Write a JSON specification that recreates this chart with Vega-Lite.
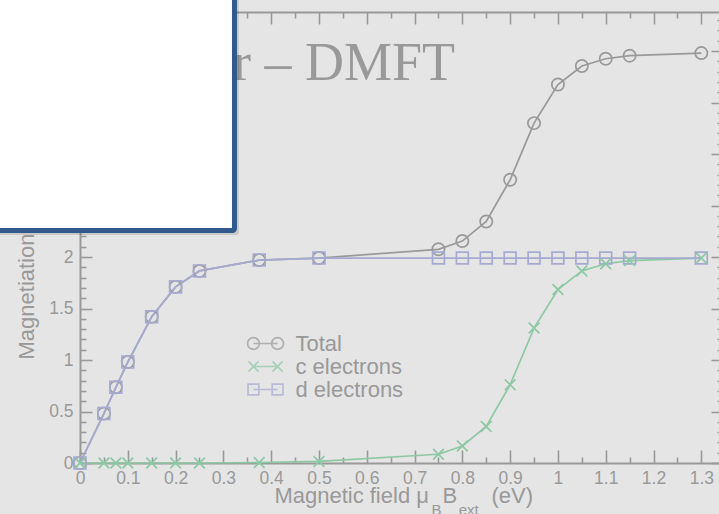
{
  "$schema": "https://vega.github.io/schema/vega-lite/v6.json",
  "width": 639,
  "height": 451,
  "autosize": {"type": "none"},
  "padding": {"left": 80, "top": 12, "right": 0, "bottom": 51},
  "background": "#e5e5e5",
  "config": {
    "view": {"stroke": null},
    "font": "Liberation Sans",
    "axis": {
      "grid": false,
      "domainColor": "#999999",
      "domainWidth": 2,
      "tickColor": "#999999",
      "tickWidth": 1.6,
      "labelColor": "#999999",
      "labelFont": "Liberation Sans",
      "labelFontSize": 17.5,
      "titleColor": "#999999",
      "titleFont": "Liberation Sans",
      "titleFontWeight": "normal"
    }
  },
  "data": {
    "values": [
      {"B": 0, "series": "Total", "M": 0},
      {"B": 0.05, "series": "Total", "M": 0.48},
      {"B": 0.075, "series": "Total", "M": 0.735},
      {"B": 0.1, "series": "Total", "M": 0.98},
      {"B": 0.15, "series": "Total", "M": 1.42},
      {"B": 0.2, "series": "Total", "M": 1.71},
      {"B": 0.25, "series": "Total", "M": 1.865},
      {"B": 0.375, "series": "Total", "M": 1.97},
      {"B": 0.5, "series": "Total", "M": 1.99},
      {"B": 0.75, "series": "Total", "M": 2.075},
      {"B": 0.8, "series": "Total", "M": 2.155},
      {"B": 0.85, "series": "Total", "M": 2.345},
      {"B": 0.9, "series": "Total", "M": 2.75},
      {"B": 0.95, "series": "Total", "M": 3.3},
      {"B": 1.0, "series": "Total", "M": 3.675},
      {"B": 1.05, "series": "Total", "M": 3.855},
      {"B": 1.1, "series": "Total", "M": 3.925},
      {"B": 1.15, "series": "Total", "M": 3.955},
      {"B": 1.3, "series": "Total", "M": 3.98},
      {"B": 0, "series": "d electrons", "M": 0},
      {"B": 0.05, "series": "d electrons", "M": 0.48},
      {"B": 0.075, "series": "d electrons", "M": 0.735},
      {"B": 0.1, "series": "d electrons", "M": 0.98},
      {"B": 0.15, "series": "d electrons", "M": 1.42},
      {"B": 0.2, "series": "d electrons", "M": 1.71},
      {"B": 0.25, "series": "d electrons", "M": 1.865},
      {"B": 0.375, "series": "d electrons", "M": 1.97},
      {"B": 0.5, "series": "d electrons", "M": 1.99},
      {"B": 0.75, "series": "d electrons", "M": 1.99},
      {"B": 0.8, "series": "d electrons", "M": 1.99},
      {"B": 0.85, "series": "d electrons", "M": 1.99},
      {"B": 0.9, "series": "d electrons", "M": 1.99},
      {"B": 0.95, "series": "d electrons", "M": 1.99},
      {"B": 1.0, "series": "d electrons", "M": 1.99},
      {"B": 1.05, "series": "d electrons", "M": 1.99},
      {"B": 1.1, "series": "d electrons", "M": 1.99},
      {"B": 1.15, "series": "d electrons", "M": 1.99},
      {"B": 1.3, "series": "d electrons", "M": 1.99},
      {"B": 0, "series": "c electrons", "M": 0},
      {"B": 0.05, "series": "c electrons", "M": 0},
      {"B": 0.075, "series": "c electrons", "M": 0},
      {"B": 0.1, "series": "c electrons", "M": 0},
      {"B": 0.15, "series": "c electrons", "M": 0},
      {"B": 0.2, "series": "c electrons", "M": 0},
      {"B": 0.25, "series": "c electrons", "M": 0},
      {"B": 0.375, "series": "c electrons", "M": 0.005},
      {"B": 0.5, "series": "c electrons", "M": 0.015},
      {"B": 0.75, "series": "c electrons", "M": 0.085},
      {"B": 0.8, "series": "c electrons", "M": 0.165},
      {"B": 0.85, "series": "c electrons", "M": 0.355},
      {"B": 0.9, "series": "c electrons", "M": 0.76},
      {"B": 0.95, "series": "c electrons", "M": 1.31},
      {"B": 1.0, "series": "c electrons", "M": 1.685},
      {"B": 1.05, "series": "c electrons", "M": 1.865},
      {"B": 1.1, "series": "c electrons", "M": 1.935},
      {"B": 1.15, "series": "c electrons", "M": 1.965},
      {"B": 1.3, "series": "c electrons", "M": 1.99}
    ]
  },
  "resolve": {"axis": {"x": "independent", "y": "independent"}},
  "layer": [
    {
      "transform": [{"filter": "datum.series === 'Total'"}],
      "mark": {"type": "line", "strokeWidth": 1.7, "color": "#999999"},
      "encoding": {
        "x": {
          "field": "B", "type": "quantitative",
          "scale": {"domain": [0, 1.337], "nice": false, "zero": false},
          "axis": {
            "orient": "bottom",
            "values": [0, 0.1, 0.2, 0.3, 0.4, 0.5, 0.6, 0.7, 0.8, 0.9, 1, 1.1, 1.2, 1.3],
            "format": "~g", "ticks": false, "labelPadding": 6.5,
            "labelFlush": false, "labelOverlap": false, "title": null
          }
        },
        "y": {
          "field": "M", "type": "quantitative",
          "scale": {"domain": [0, 4.379], "nice": false, "zero": false},
          "axis": {
            "orient": "left",
            "values": [0, 0.5, 1, 1.5, 2, 2.5, 3, 3.5, 4],
            "format": "~g", "ticks": false, "labelPadding": 7,
            "labelFlush": false, "labelOverlap": false,
            "title": "Magnetiation", "titleFontSize": 22, "titleAngle": 270,
            "titleAlign": "left", "titleBaseline": "alphabetic",
            "titleX": -47, "titleY": 347
          }
        }
      }
    },
    {
      "transform": [{"filter": "datum.series === 'c electrons'"}],
      "mark": {"type": "line", "strokeWidth": 1.7, "color": "#8dc8a5"},
      "encoding": {
        "x": {"field": "B", "type": "quantitative", "axis": null},
        "y": {"field": "M", "type": "quantitative", "axis": null}
      }
    },
    {
      "transform": [{"filter": "datum.series === 'd electrons'"}],
      "mark": {"type": "line", "strokeWidth": 1.7, "color": "#a6aad0"},
      "encoding": {
        "x": {"field": "B", "type": "quantitative", "axis": null},
        "y": {"field": "M", "type": "quantitative", "axis": null}
      }
    },
    {
      "transform": [{"filter": "datum.series === 'Total'"}],
      "mark": {"type": "point", "shape": "circle", "size": 150, "strokeWidth": 1.7, "filled": false, "opacity": 1, "color": "#999999"},
      "encoding": {
        "x": {"field": "B", "type": "quantitative", "axis": null},
        "y": {"field": "M", "type": "quantitative", "axis": null}
      }
    },
    {
      "transform": [{"filter": "datum.series === 'd electrons'"}],
      "mark": {"type": "point", "shape": "square", "size": 140, "strokeWidth": 1.7, "filled": false, "opacity": 1, "color": "#a6aad0"},
      "encoding": {
        "x": {"field": "B", "type": "quantitative", "axis": null},
        "y": {"field": "M", "type": "quantitative", "axis": null}
      }
    },
    {
      "transform": [{"filter": "datum.series === 'c electrons'"}],
      "mark": {"type": "point", "shape": "M-1,-1L1,1M1,-1L-1,1", "size": 115, "strokeWidth": 1.7, "filled": false, "opacity": 1, "color": "#8dc8a5"},
      "encoding": {
        "x": {"field": "B", "type": "quantitative", "axis": null},
        "y": {"field": "M", "type": "quantitative", "axis": null}
      }
    },
    {
      "transform": [{"filter": "false"}],
      "mark": {"type": "point", "filled": false, "strokeWidth": 1.7},
      "encoding": {
        "x": {"field": "B", "type": "quantitative", "axis": null},
        "y": {"field": "M", "type": "quantitative", "axis": null},
        "color": {
          "field": "series", "type": "nominal",
          "scale": {
            "domain": ["Total", "c electrons", "d electrons"],
            "range": ["#999999", "#8dc8a5", "#a6aad0"]
          },
          "legend": {
            "title": null, "orient": "none", "legendX": 166.5, "legendY": 320,
            "padding": 0, "symbolSize": 1296, "clipHeight": 23, "rowPadding": 0,
            "labelOffset": 11, "labelFont": "Liberation Sans", "labelFontSize": 22,
            "labelColor": "#999999", "symbolStrokeWidth": 1.7, "symbolFillColor": "transparent"
          }
        },
        "shape": {
          "field": "series", "type": "nominal",
          "scale": {
            "domain": ["Total", "c electrons", "d electrons"],
            "range": [
              "M-1,0A0.33,0.33,0,1,1,-0.34,0A0.33,0.33,0,1,1,-1,0ZM0.34,0A0.33,0.33,0,1,1,1,0A0.33,0.33,0,1,1,0.34,0ZM-0.67,0L0.67,0",
              "M-0.95,-0.28L-0.39,0.28M-0.95,0.28L-0.39,-0.28M0.39,-0.28L0.95,0.28M0.39,0.28L0.95,-0.28M-0.67,0L0.67,0",
              "M-0.97,-0.3H-0.37V0.3H-0.97ZM0.37,-0.3H0.97V0.3H0.37ZM-0.67,0L0.67,0"
            ]
          },
          "legend": {
            "title": null, "orient": "none", "legendX": 166.5, "legendY": 320,
            "padding": 0, "symbolSize": 1296, "clipHeight": 23, "rowPadding": 0,
            "labelOffset": 11, "labelFont": "Liberation Sans", "labelFontSize": 22,
            "labelColor": "#999999", "symbolStrokeWidth": 1.7, "symbolFillColor": "transparent"
          }
        }
      }
    },
    {
      "transform": [{"filter": "false"}],
      "mark": {"type": "point"},
      "encoding": {
        "x": {"field": "B", "type": "quantitative",
          "axis": {"orient": "bottom", "values": [0, 0.1, 0.2, 0.3, 0.4, 0.5, 0.6, 0.7, 0.8, 0.9, 1, 1.1, 1.2, 1.3],
            "labels": false, "domain": false, "tickSize": -13, "title": null}},
        "y": {"field": "M", "type": "quantitative",
          "axis": {"orient": "left", "values": [0, 0.5, 1, 1.5, 2, 2.5, 3, 3.5, 4],
            "labels": false, "domain": false, "tickSize": -12, "title": null}}
      }
    },
    {
      "transform": [{"filter": "false"}],
      "mark": {"type": "point"},
      "encoding": {
        "x": {"field": "B", "type": "quantitative",
          "axis": {"orient": "bottom", "values": [0.05, 0.15, 0.25, 0.35, 0.45, 0.55, 0.65, 0.75, 0.85, 0.95, 1.05, 1.15, 1.25],
            "labels": false, "domain": false, "tickSize": -6, "title": null}},
        "y": {"field": "M", "type": "quantitative",
          "axis": {"orient": "left", "values": [0.1, 0.2, 0.3, 0.4, 0.6, 0.7, 0.8, 0.9, 1.1, 1.2, 1.3, 1.4, 1.6, 1.7, 1.8, 1.9, 2.1, 2.2, 2.3, 2.4, 2.6, 2.7, 2.8, 2.9, 3.1, 3.2, 3.3, 3.4, 3.6, 3.7, 3.8, 3.9, 4.1, 4.2, 4.3],
            "labels": false, "domain": false, "tickSize": -6, "title": null}}
      }
    },
    {
      "transform": [{"filter": "false"}],
      "mark": {"type": "point"},
      "encoding": {
        "x": {"field": "B", "type": "quantitative",
          "axis": {"orient": "top", "values": [0, 0.1, 0.2, 0.3, 0.4, 0.5, 0.6, 0.7, 0.8, 0.9, 1, 1.1, 1.2, 1.3],
            "labels": false, "domain": true, "tickSize": -12, "title": null}},
        "y": {"field": "M", "type": "quantitative",
          "axis": {"orient": "right", "offset": 4, "values": [0, 0.5, 1, 1.5, 2, 2.5, 3, 3.5, 4],
            "labels": false, "domain": false, "tickSize": -12, "title": null}}
      }
    },
    {
      "transform": [{"filter": "false"}],
      "mark": {"type": "point"},
      "encoding": {
        "x": {"field": "B", "type": "quantitative",
          "axis": {"orient": "top", "values": [0.05, 0.15, 0.25, 0.35, 0.45, 0.55, 0.65, 0.75, 0.85, 0.95, 1.05, 1.15, 1.25],
            "labels": false, "domain": false, "tickSize": -6, "title": null}},
        "y": {"field": "M", "type": "quantitative",
          "axis": {"orient": "right", "offset": 4, "values": [0.1, 0.2, 0.3, 0.4, 0.6, 0.7, 0.8, 0.9, 1.1, 1.2, 1.3, 1.4, 1.6, 1.7, 1.8, 1.9, 2.1, 2.2, 2.3, 2.4, 2.6, 2.7, 2.8, 2.9, 3.1, 3.2, 3.3, 3.4, 3.6, 3.7, 3.8, 3.9, 4.1, 4.2, 4.3],
            "labels": false, "domain": false, "tickSize": -6, "title": null}}
      }
    },
    {
      "data": {"values": [{"label": "r – DMFT"}]},
      "mark": {"type": "text", "font": "Liberation Serif", "fontSize": 54, "color": "#999999", "align": "right", "baseline": "alphabetic"},
      "encoding": {
        "x": {"datum": 0.7845, "type": "quantitative", "axis": null},
        "y": {"datum": 3.718, "type": "quantitative", "axis": null},
        "text": {"field": "label"}
      }
    },
    {
      "data": {"values": [{"label": "Magnetic field μ"}]},
      "mark": {"type": "text", "fontSize": 22, "color": "#999999", "align": "left", "baseline": "alphabetic"},
      "encoding": {
        "x": {"datum": 0.4067, "type": "quantitative", "axis": null},
        "y": {"datum": -0.3883, "type": "quantitative", "axis": null},
        "text": {"field": "label"}
      }
    },
    {
      "data": {"values": [{"label": "B"}]},
      "mark": {"type": "text", "fontSize": 15, "color": "#999999", "align": "left", "baseline": "alphabetic"},
      "encoding": {
        "x": {"datum": 0.7355, "type": "quantitative", "axis": null},
        "y": {"datum": -0.505, "type": "quantitative", "axis": null},
        "text": {"field": "label"}
      }
    },
    {
      "data": {"values": [{"label": "B"}]},
      "mark": {"type": "text", "fontSize": 22, "color": "#999999", "align": "left", "baseline": "alphabetic"},
      "encoding": {
        "x": {"datum": 0.7585, "type": "quantitative", "axis": null},
        "y": {"datum": -0.3883, "type": "quantitative", "axis": null},
        "text": {"field": "label"}
      }
    },
    {
      "data": {"values": [{"label": "ext"}]},
      "mark": {"type": "text", "fontSize": 15, "color": "#999999", "align": "left", "baseline": "alphabetic"},
      "encoding": {
        "x": {"datum": 0.7925, "type": "quantitative", "axis": null},
        "y": {"datum": -0.505, "type": "quantitative", "axis": null},
        "text": {"field": "label"}
      }
    },
    {
      "data": {"values": [{"label": "(eV)"}]},
      "mark": {"type": "text", "fontSize": 22, "color": "#999999", "align": "left", "baseline": "alphabetic"},
      "encoding": {
        "x": {"datum": 0.8609, "type": "quantitative", "axis": null},
        "y": {"datum": -0.3883, "type": "quantitative", "axis": null},
        "text": {"field": "label"}
      }
    },
    {
      "data": {"values": [{}]},
      "mark": {"type": "rect", "fill": "#000000", "opacity": 0.12, "cornerRadius": 3},
      "encoding": {
        "x": {"datum": -0.3, "type": "quantitative", "axis": null},
        "x2": {"datum": 0.3326},
        "y": {"datum": 2.2136, "type": "quantitative", "axis": null},
        "y2": {"datum": 4.9}
      }
    },
    {
      "data": {"values": [{}]},
      "mark": {"type": "rect", "fill": "#ffffff", "stroke": "#2f5a8b", "strokeWidth": 5, "cornerRadius": 2},
      "encoding": {
        "x": {"datum": -0.3, "type": "quantitative", "axis": null},
        "x2": {"datum": 0.3232},
        "y": {"datum": 2.257, "type": "quantitative", "axis": null},
        "y2": {"datum": 4.9}
      }
    }
  ]
}
